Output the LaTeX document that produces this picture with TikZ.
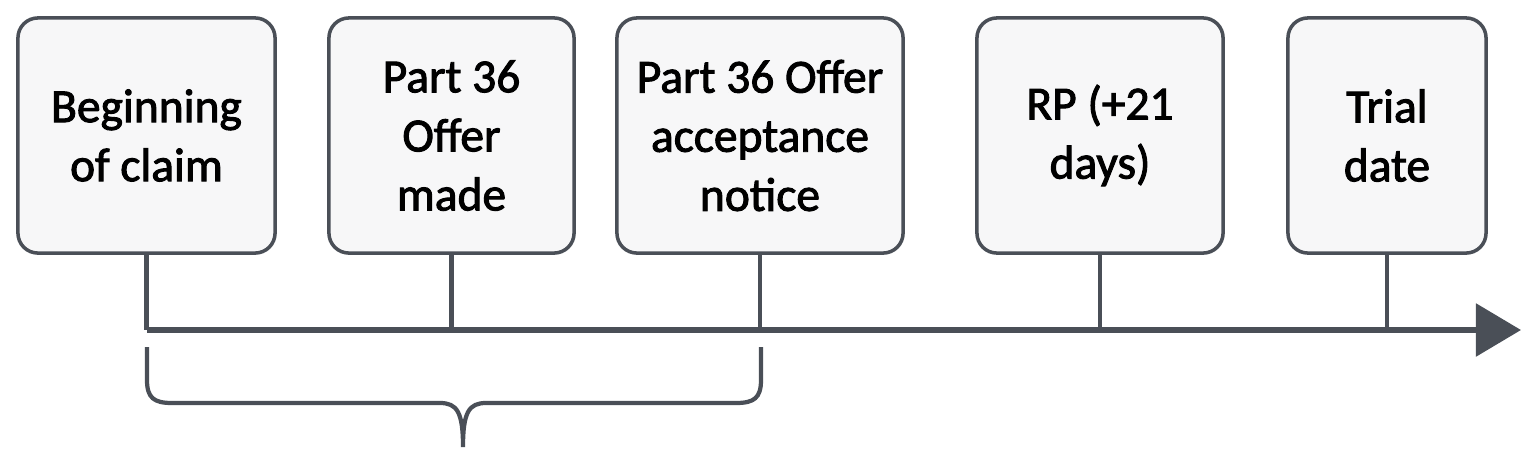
\documentclass[tikz,border=0pt]{standalone}
\usepackage{fontspec}
\setmainfont{Carlito}[FakeBold=2]
\usetikzlibrary{arrows.meta}
\definecolor{edgegray}{HTML}{4A4F57}
\definecolor{boxfill}{HTML}{F7F7F8}
\begin{document}
\begin{tikzpicture}[x=0.01cm,y=-0.01cm,
        event/.style={draw=edgegray,fill=boxfill,line width=1pt,rounded corners=0.2cm,
            minimum height=2.35cm,align=center,inner sep=0pt,
            font=\fontsize{13.5}{16.8}\selectfont},
        tick/.style={draw=edgegray,line width=1.2pt},
        axis/.style={draw=edgegray,line width=1.6pt,-{Triangle[length=0.45cm,width=0.52cm]}},
        span/.style={draw=edgegray,line width=1.2pt}]
        \useasboundingbox (0,0) rectangle (1527,466);
        % timeline events
        \node[event,minimum width=2.57cm] (claim) at (146.5,135.5) {Beginning\\of claim};
        \node[event,minimum width=2.45cm] (offer) at (451.5,135.5) {Part 36\\Offer\\made};
        \node[event,minimum width=2.86cm] (accept) at (760,135.5) {Part 36 Offer\\acceptance\\notice};
        \node[event,minimum width=2.46cm] (rp) at (1100,135.5) {RP (+21\\days)};
        \node[event,minimum width=1.98cm] (trial) at (1387,135.5) {Trial\\date};
        
        \coordinate (start) at (147,330);
        \coordinate (end) at (1521,330);
        \draw[axis] (start) -- (end);
        \foreach \n in {claim,offer,accept,rp,trial}
                \draw[tick] (\n.south) -- (\n.south |- start);
        
        % brace under the relevant period
        \draw[span] (147,347) -- (147,380) .. controls (147,398) and (154,403) .. (172,403)
                -- (440,403) .. controls (457,403) and (463,412) .. (463,447)
                .. controls (463,412) and (469,403) .. (486,403)
                -- (736,403) .. controls (754,403) and (761,398) .. (761,380) -- (761,347);
\end{tikzpicture}
\end{document}
